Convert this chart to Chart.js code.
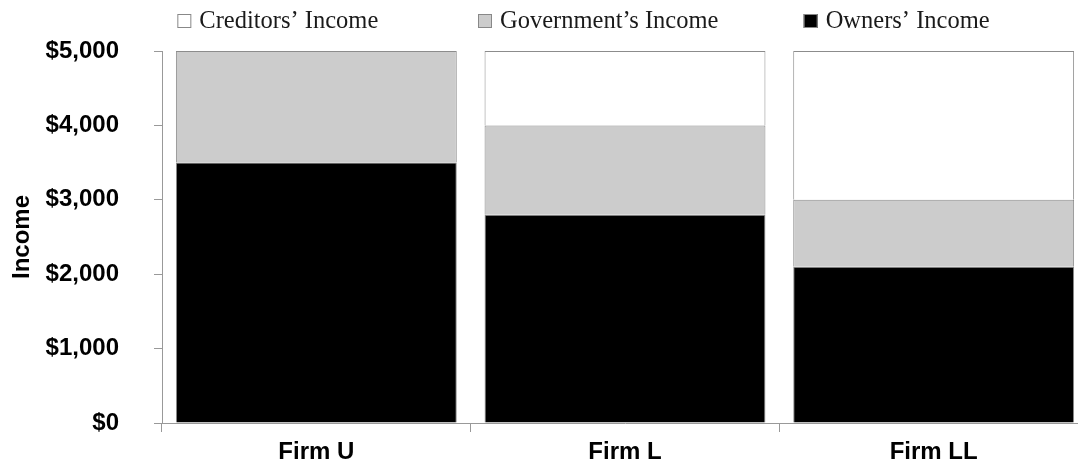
<!DOCTYPE html>
<html lang="en">
<head>
<meta charset="UTF-8">
<title>Income by firm</title>
<script src="https://cdn.jsdelivr.net/npm/chart.js"></script>
<style>
  body { margin: 0; overflow: hidden; background: #fff; }
  #wrap { width: 1090px; height: 465px; }
</style>
</head>
<body>
<div id="wrap"><canvas id="myChart" width="1090" height="465"></canvas></div>
<script>
    // chart data
    const firms = ['Firm U', 'Firm L', 'Firm LL'];
    const ownersIncome = [3500, 2800, 2100];
    const governmentIncome = [1500, 1200, 900];
    const creditorsIncome = [0, 1000, 2000];
    const yTicks = [0, 1000, 2000, 3000, 4000, 5000];

    // legend order as shown on top, left to right
    const legendItems = [
        { label: 'Creditors\u2019 Income', fill: '#ffffff', shift: -139 },
        { label: 'Government\u2019s Income', fill: '#cccccc', shift: -147 },
        { label: 'Owners\u2019 Income', fill: '#000000', shift: -130 }
    ];

    const topLegend = {
        id: 'topLegend',
        afterDraw(chart) {
            const ctx = chart.ctx;
            const x = chart.scales.x;
            ctx.save();
            ctx.font = '24.5px "Liberation Serif", "DejaVu Serif", serif';
            ctx.textBaseline = 'alphabetic';
            ctx.textAlign = 'left';
            legendItems.forEach((item, i) => {
                const left = x.getPixelForValue(i) + item.shift;
                ctx.fillStyle = item.fill;
                ctx.fillRect(left, 14, 14, 14);
                ctx.strokeStyle = '#888';
                ctx.lineWidth = 1;
                ctx.strokeRect(left + 0.5, 14.5, 13, 13);
                ctx.fillStyle = '#1a1a1a';
                ctx.fillText(item.label, left + 22, 28);
            });
            ctx.restore();
        }
    };

    const ctx = document.getElementById('myChart').getContext('2d');
    const bar = { borderColor: '#8c8c8c', borderWidth: 1, barPercentage: 0.91, categoryPercentage: 1 };
    const axisFont = { family: '"Liberation Sans", Arial, sans-serif', size: 24, weight: 'bold' };

    new Chart(ctx, {
        type: 'bar',
        data: {
            labels: firms,
            datasets: [
                Object.assign({ label: 'Owners\u2019 Income', data: ownersIncome, backgroundColor: '#000000' }, bar),
                Object.assign({ label: 'Government\u2019s Income', data: governmentIncome, backgroundColor: '#cccccc' }, bar),
                Object.assign({ label: 'Creditors\u2019 Income', data: creditorsIncome, backgroundColor: '#ffffff' }, bar)
            ]
        },
        options: {
            responsive: false,
            animation: false,
            layout: { padding: { top: 51, right: 2, left: 0, bottom: 0 } },
            plugins: {
                legend: { display: false },
                tooltip: { enabled: false }
            },
            scales: {
                x: {
                    stacked: true,
                    grid: { drawOnChartArea: false, color: '#999', tickLength: 9, offset: true },
                    border: { color: '#999' },
                    ticks: { color: '#000', padding: 6, font: axisFont },
                    afterFit(scale) { scale.height = 42; }
                },
                y: {
                    stacked: true,
                    min: 0,
                    max: 5000,
                    afterBuildTicks(scale) { scale.ticks = yTicks.map(v => ({ value: v })); },
                    grid: { drawOnChartArea: false, color: '#999', tickLength: 8 },
                    border: { color: '#999' },
                    ticks: {
                        color: '#000',
                        padding: 35,
                        font: axisFont,
                        callback: v => '$' + v.toLocaleString('en-US')
                    },
                    title: {
                        display: true,
                        text: 'Income',
                        color: '#000',
                        padding: { top: 8, bottom: 0 },
                        font: axisFont
                    },
                    afterFit(scale) {
                        scale.width = 162;
                        // big label gap should not push the plot up from the bottom
                        scale.paddingTop = 14;
                        scale.paddingBottom = 14;
                    }
                }
            }
        },
        plugins: [topLegend]
    });
</script>
</body>
</html>
